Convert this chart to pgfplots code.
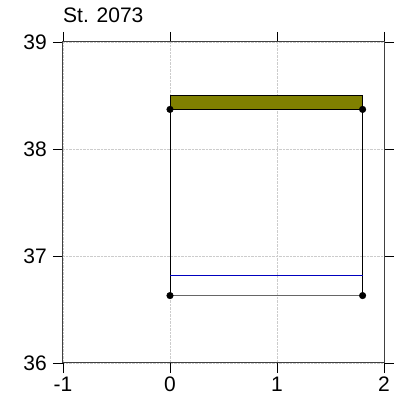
\documentclass[border=0pt]{standalone}
\usepackage{pgfplots}
\pgfplotsset{compat=1.18}
\usepackage{fontspec}
\setmainfont{Liberation Sans}
\definecolor{barolive}{RGB}{128,128,0}
\begin{document}
\begin{tikzpicture}
\useasboundingbox (-63pt,-41pt) rectangle (333pt,363pt);
\begin{axis}[
  at={(0,0)}, anchor=south west,
  width=321pt, height=321pt, scale only axis,
  xmin=-1, xmax=2, ymin=36, ymax=39,
  xtick={-1,0,1,2}, ytick={36,37,38,39},
  tick align=outside, major tick length=10pt,
  tick style={black, line width=0.8pt},
  axis line style={black!75, line width=1pt},
  grid=major, grid style={densely dotted, gray!40, line width=0.6pt},
  /pgf/number format/assume math mode=true,
  ticklabel style={font=\fontsize{21}{25}\selectfont, inner sep=0pt},
  yticklabel style={xshift=-6pt},
  xticklabel style={yshift=-4pt},
  title={St. 2073},
  title style={at={(rel axis cs:0,1)}, anchor=base west, yshift=13pt, inner sep=0pt, font=\fontsize{21}{25}\selectfont},
  clip=false,
]
\addplot[draw=black, line width=0.8pt, fill=barolive] coordinates {(0,38.37) (1.8,38.37) (1.8,38.5) (0,38.5) (0,38.37)};
\addplot[black, line width=0.8pt] coordinates {(0,36.63) (0,38.37)};
\addplot[black, line width=0.8pt] coordinates {(1.8,36.63) (1.8,38.37)};
\addplot[black!60, line width=1pt] coordinates {(0,36.63) (1.8,36.63)};
\addplot[blue!75!black, line width=0.8pt] coordinates {(0,36.82) (1.8,36.82)};
\addplot[only marks, mark=*, mark size=3.3pt, black] coordinates {(0,38.37) (1.8,38.37) (0,36.63) (1.8,36.63)};
\end{axis}
\end{tikzpicture}
\end{document}
